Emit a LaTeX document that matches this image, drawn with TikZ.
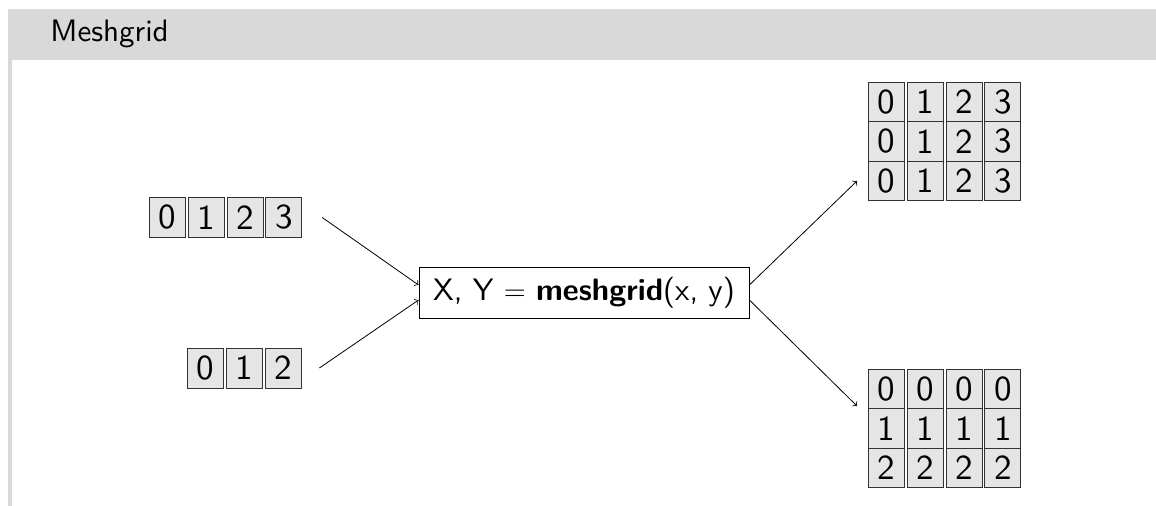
\documentclass[tikz,border=0pt]{standalone}
\usepackage{fontspec}
\setsansfont{lmsans10-regular}[Extension=.otf, BoldFont=lmsans10-bold]
\usepackage{amsmath}
\usepackage{xcolor}
\usetikzlibrary{positioning,matrix}

\definecolor{blockgray}{gray}{0.85}
\definecolor{cellgray}{gray}{0.9}

\tikzset{
  cell/.style={draw=black!80, fill=cellgray, minimum width=18pt, minimum height=20pt,
    inner sep=0pt, font=\fontsize{17.5}{20}\selectfont\sffamily},
  grid/.style={matrix of nodes, inner sep=0pt, outer sep=0pt,
    nodes={cell, anchor=center, minimum height=19.7pt},
    column sep=1pt, row sep=-0.4pt},
  func/.style={draw, minimum width=165pt, minimum height=25.5pt, inner sep=2pt,
    font=\fontsize{15.5}{19}\selectfont\sffamily}
}

\begin{document}
\begin{tikzpicture}[x=0.5pt, y=-0.5pt]
  \useasboundingbox (0,0) rectangle (1156,506);
  % block frame
  \fill[blockgray] (8,9) rectangle (1156,60);
  \fill[blockgray] (8,60) rectangle (12,506);
  \node[anchor=base west, inner sep=0pt, font=\fontsize{15.5}{18}\selectfont\sffamily] (title) at (50,42) {Meshgrid};

  % input vectors
  \node[cell, anchor=west] (x0) at (149,217.5) {0};
  \foreach \i [remember=\i as \j (initially 0)] in {1,2,3}
    \node[cell, right=1pt of x\j] (x\i) {\i};
  \node[cell, anchor=west] (y0) at (187,368) {0};
  \foreach \i [remember=\i as \j (initially 0)] in {1,2}
    \node[cell, right=1pt of y\j] (y\i) {\i};

  % function call
  \node[func] (fn) at (584,292.5) {X, Y $=$ \textbf{meshgrid}(x, y)};

  % outputs
  \matrix (mx) [grid, anchor=west] at (868,141.5) {
    0 & 1 & 2 & 3 \\
    0 & 1 & 2 & 3 \\
    0 & 1 & 2 & 3 \\
  };
  \matrix (my) [grid, anchor=west] at (868,428.5) {
    0 & 0 & 0 & 0 \\
    1 & 1 & 1 & 1 \\
    2 & 2 & 2 & 2 \\
  };

  \draw[->] ([xshift=10pt]x3.east) -- ([yshift=3.75pt]fn.west);
  \draw[->] ([xshift=9pt]y2.east) -- ([yshift=-3.75pt]fn.west);
  \draw[->] ([yshift=3.75pt]fn.east) -- ([xshift=-5.5pt, yshift=-19.75pt]mx.west);
  \draw[->] ([yshift=-3.75pt]fn.east) -- ([xshift=-5.5pt, yshift=11.25pt]my.west);
\end{tikzpicture}
\end{document}
